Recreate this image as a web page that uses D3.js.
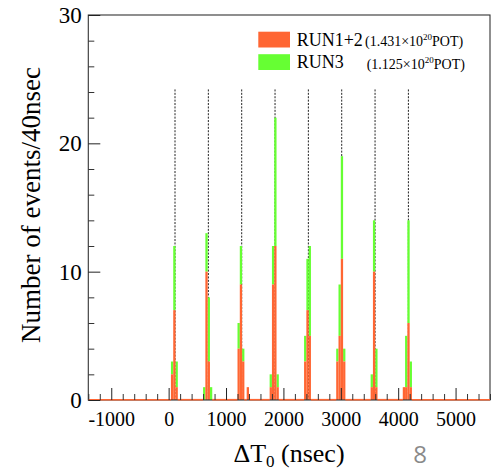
<!DOCTYPE html>
<html><head><meta charset="utf-8">
<script src="https://cdn.jsdelivr.net/npm/d3@7"></script>
<style>body{margin:0;background:#fff}svg{display:block}</style>
</head><body>
<svg id="c" width="496" height="470"></svg>
<script>
// ---- data ----
const binWidth = 40; // nsec
const binStart = [40,80,120, 600,640,680,720, 1200,1240,1280,1360, 1760,1800,1840,1880,
                  2360,2400,2440, 2920,2960,3000,3040, 3520,3560,3600, 4080,4120,4160,4200];
const run12    = [2,7,1, 0,10,3,0, 4,9,3,1, 1,9,12,1, 3,7,5, 3,5,11,3, 1,10,1, 1,1,6,1];
const run3     = [1,5,2, 1,3,5,1, 2,3,1,0, 1,3,10,1, 2,4,7, 1,4,8,1, 1,4,3, 0,4,8,2];
const bunchCenters = [111, 692, 1273, 1854, 2435, 3016, 3597, 4178];
const xMajorTicks = [-1000,0,1000,2000,3000,4000,5000];
const yMajorTicks = [0,10,20,30];
const legendLabels = ["RUN1+2","RUN3"];
const legendPOT = ["1.431","1.125"];
const colors = ["#ff6633","#66ff33"];

const svg = d3.select("#c");
const serif = "'Liberation Serif','Times New Roman',serif";
const x = d3.scaleLinear().domain([-1400,5600]).range([88.3,490]);
const y = d3.scaleLinear().domain([0,30]).range([400,15]);

// dashed bunch lines (behind bars)
svg.append("g").selectAll("line").data(bunchCenters).join("line")
  .attr("x1",d=>x(d)).attr("x2",d=>x(d))
  .attr("y1",y(24.2)).attr("y2",y(0))
  .attr("stroke","#222").attr("stroke-width",1).attr("stroke-dasharray","2,1.4");

const bins = binStart.map((b,i)=>({b, o:run12[i], g:run3[i]}));
// green (RUN3) stacked on top of orange
svg.append("g").selectAll("rect").data(bins.filter(d=>d.g>0)).join("rect")
  .attr("x",d=>x(d.b)).attr("width",d=>x(d.b+binWidth)-x(d.b))
  .attr("y",d=>y(d.o+d.g)).attr("height",d=>y(d.o)-y(d.o+d.g))
  .attr("fill",colors[1]);
svg.append("g").selectAll("rect").data(bins.filter(d=>d.o>0)).join("rect")
  .attr("x",d=>x(d.b)).attr("width",d=>x(d.b+binWidth)-x(d.b))
  .attr("y",d=>y(d.o)).attr("height",d=>y(0)-y(d.o))
  .attr("fill",colors[0]);

// frame
svg.append("rect").attr("x",x(-1400)).attr("y",y(30))
  .attr("width",x(5600)-x(-1400)).attr("height",y(0)-y(30))
  .attr("fill","none").attr("stroke","#333").attr("stroke-width",1.1);

// orange zero-level outline where bins are empty
const filled = new Set(bins.filter(d=>d.o+d.g>0).map(d=>d.b));
const allBins = d3.range(-1400,5600,binWidth);
let segs=[]; let start=null;
allBins.forEach(b=>{
  if(!filled.has(b)){ if(start===null) start=b; }
  else { if(start!==null){segs.push([start,b]); start=null;} }
});
if(start!==null) segs.push([start,5600]);
svg.append("g").selectAll("line").data(segs).join("line")
  .attr("x1",d=>x(d[0])).attr("x2",d=>x(d[1])).attr("y1",y(0)-0.3).attr("y2",y(0)-0.3)
  .attr("stroke",colors[0]).attr("stroke-width",1.6);

// axes
const fmt = d => String(d);
const xMinor = d3.range(-1400,5601,200).filter(v=>!xMajorTicks.includes(v));
svg.append("g").attr("transform",`translate(0,${y(0)})`)
  .call(d3.axisBottom(x).tickValues(xMinor).tickSize(-6).tickFormat(""))
  .call(g=>{g.select(".domain").remove(); g.selectAll("line").attr("stroke","#333");});
const gx = svg.append("g").attr("transform",`translate(0,${y(0)})`)
  .call(d3.axisBottom(x).tickValues(xMajorTicks).tickSize(-12).tickPadding(12).tickFormat(fmt))
  .call(g=>{g.select(".domain").remove(); g.selectAll("line").attr("stroke","#222");});
gx.selectAll("text").attr("font-family",serif).attr("font-size",20).attr("fill","#000");

const yMinor = d3.range(0,31,2).filter(v=>!yMajorTicks.includes(v));
svg.append("g").attr("transform",`translate(${x(-1400)},0)`)
  .call(d3.axisLeft(y).tickValues(yMinor).tickSize(-6).tickFormat(""))
  .call(g=>{g.select(".domain").remove(); g.selectAll("line").attr("stroke","#333");});
const gy = svg.append("g").attr("transform",`translate(${x(-1400)},0)`)
  .call(d3.axisLeft(y).tickValues(yMajorTicks).tickSize(-12).tickPadding(6.5).tickFormat(fmt))
  .call(g=>{g.select(".domain").remove(); g.selectAll("line").attr("stroke","#222");});
gy.selectAll("text").attr("font-family",serif).attr("font-size",23).attr("fill","#000");

// axis titles
const xt = svg.append("text").attr("x",289).attr("y",462).attr("text-anchor","middle")
  .attr("font-family",serif).attr("font-size",26).attr("fill","#000");
xt.append("tspan").text("ΔT");
xt.append("tspan").attr("font-size",17).attr("dy",5).text("0");
xt.append("tspan").attr("dy",-5).text(" (nsec)");

svg.append("text").attr("transform","translate(40,205) rotate(-90)").attr("text-anchor","middle")
  .attr("font-family",serif).attr("font-size",27).attr("fill","#000")
  .text("Number of events/40nsec");

// legend
const lg = svg.append("g");
legendLabels.forEach((lab,i)=>{
  const yy = 31.7 + i*22.5;
  lg.append("rect").attr("x",258.3).attr("y",yy).attr("width",31.7).attr("height",15.8).attr("fill",colors[i]);
  lg.append("text").attr("x",296.7).attr("y",yy+13.8).attr("font-family",serif).attr("font-size",18)
    .attr("fill","#000").text(lab);
  const t = lg.append("text").attr("x",i===0?365:366.7).attr("y",yy+14.5).attr("font-family",serif)
    .attr("font-size",14).attr("fill","#000");
  t.append("tspan").text(`(${legendPOT[i]}×10`);
  t.append("tspan").attr("font-size",9).attr("dy",-6).text("20");
  t.append("tspan").attr("dy",6).text("POT)");
});

// page number
svg.append("text").attr("x",420).attr("y",463).attr("text-anchor","middle")
  .attr("font-family","'Open Sans','DejaVu Sans',sans-serif").attr("font-size",24).attr("fill","#8a8a8a").text("8");
</script>
</body></html>
